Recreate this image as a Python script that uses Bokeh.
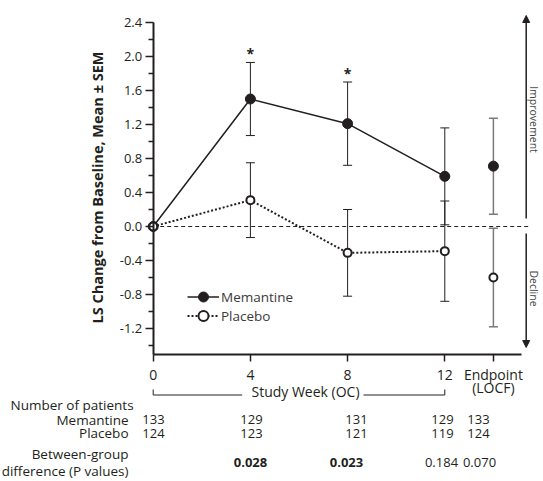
import math
from bokeh.plotting import figure
from bokeh.models import (Range1d, LinearAxis, FixedTicker, ColumnDataSource, Whisker,
                          TeeHead, Arrow, NormalHead, Legend, LegendItem, NumeralTickFormatter)
from bokeh.core.properties import value
from bokeh.embed import file_html
from bokeh.resources import INLINE

# ---------------- data ----------------
weeks = [0, 4, 8, 12]
mem_mean = [0.0, 1.50, 1.21, 0.59]
mem_sem = [0.0, 0.43, 0.49, 0.57]
pla_mean = [0.0, 0.31, -0.31, -0.29]
pla_sem = [0.0, 0.44, 0.51, 0.59]

endpoint_x = [14]
end_mem_mean = [0.71]
end_mem_sem = [0.565]
end_pla_mean = [-0.60]
end_pla_sem = [0.58]

sig_weeks = [4, 8]

x_tick_values = [0, 4, 8, 12, 14]
x_tick_labels = ["0", "4", "8", "12", "Endpoint"]
y_ticks = [-1.2, -0.8, -0.4, 0.0, 0.4, 0.8, 1.2, 1.6, 2.0, 2.4]
y_minor_ticks = [-1.4, -1.0, -0.6, -0.2, 0.2, 0.6, 1.0, 1.4, 1.8, 2.2]

n_memantine = ["133", "129", "131", "129", "133"]
n_placebo = ["124", "123", "121", "119", "124"]
p_values = ["0.028", "0.023", "0.184", "0.070"]
p_bold = ["bold", "bold", "normal", "normal"]

# ---------------- layout constants ----------------
FONT = "Open Sans"
INK = "#231f20"
GREY = "#7a7a7a"
FS = "13px"
FS_LAB = "13.5px"
W, H = 543, 481
PX_X, PX_Y = 24.3, 85.0          # pixels per week / per unit
X0_PX, Y0_PX = 152.7, 226.0      # canvas position of (0, 0)

def ydat(screen_y):
    return (Y0_PX - screen_y) / PX_Y

def xdat(screen_x):
    return (screen_x - X0_PX) / PX_X

table_col_x = [xdat(153), xdat(251), xdat(356), xdat(442), xdat(478)]
pval_col_x = [xdat(250), xdat(346), xdat(441), xdat(479)]

p = figure(width=W, height=H, output_backend="svg", toolbar_location=None,
           x_range=Range1d(-X0_PX / PX_X, (W - X0_PX) / PX_X),
           y_range=Range1d(-(H - Y0_PX) / PX_Y, Y0_PX / PX_Y),
           x_axis_type=None, y_axis_type=None, min_border=0,
           outline_line_color=None, background_fill_color="white")

# ---------------- axes ----------------
yaxis = LinearAxis(fixed_location=0, bounds=(-1.5, 2.4),
                   ticker=FixedTicker(ticks=y_ticks, minor_ticks=y_minor_ticks),
                   formatter=NumeralTickFormatter(format="0.0"))
yaxis.axis_line_width = 2
yaxis.axis_line_color = INK
yaxis.major_tick_line_color = INK
yaxis.minor_tick_line_color = INK
yaxis.major_tick_line_width = 1.5
yaxis.minor_tick_line_width = 1.5
yaxis.major_tick_out = 8
yaxis.major_tick_in = 0
yaxis.minor_tick_out = 5
yaxis.minor_tick_in = 0
yaxis.major_label_standoff = 3
yaxis.major_label_text_font = FONT
yaxis.major_label_text_font_size = FS
yaxis.major_label_text_color = INK
p.add_layout(yaxis, "left")

xaxis = LinearAxis(fixed_location=-1.5, bounds=(0, 15.14),
                   ticker=FixedTicker(ticks=x_tick_values, minor_ticks=[]),
                   major_label_overrides={v: l for v, l in zip(x_tick_values, x_tick_labels)})
xaxis.axis_line_width = 2
xaxis.axis_line_color = INK
xaxis.major_tick_line_color = INK
xaxis.major_tick_line_width = 1.5
xaxis.major_tick_out = 7
xaxis.major_tick_in = 0
xaxis.minor_tick_line_color = None
xaxis.major_label_standoff = 4
xaxis.major_label_text_font = FONT
xaxis.major_label_text_font_size = "14px"
xaxis.major_label_text_color = INK
p.add_layout(xaxis, "below")

# zero reference line
p.segment(x0=[0], y0=[0], x1=[xdat(530)], y1=[0], line_color=INK, line_width=1,
          line_dash="4 3")

# ---------------- error bars ----------------
def whisk(xs, means, sems, color, width):
    src = ColumnDataSource(dict(x=xs, upper=[m + s for m, s in zip(means, sems)],
                                lower=[m - s for m, s in zip(means, sems)]))
    w = Whisker(base="x", upper="upper", lower="lower", source=src, dimension="height",
                line_color=color, line_width=width,
                upper_head=TeeHead(size=9, line_color=color, line_width=width),
                lower_head=TeeHead(size=9, line_color=color, line_width=width))
    p.add_layout(w)

whisk(weeks[1:], mem_mean[1:], mem_sem[1:], INK, 1)
whisk(weeks[1:], pla_mean[1:], pla_sem[1:], INK, 1)
whisk(endpoint_x, end_mem_mean, end_mem_sem, GREY, 1.5)
whisk(endpoint_x, end_pla_mean, end_pla_sem, GREY, 1.5)

# ---------------- series ----------------
pla_line = p.line(weeks, pla_mean, line_color=INK, line_width=2, line_dash="2 2")
mem_line = p.line(weeks, mem_mean, line_color=INK, line_width=1.5)
mem_pts = p.scatter(weeks, mem_mean, size=10, fill_color=INK, line_color=INK, line_width=1)
pla_pts = p.scatter(weeks, pla_mean, size=8, fill_color="white", line_color=INK, line_width=2)
p.scatter(endpoint_x, end_mem_mean, size=10, fill_color=INK, line_color=INK, line_width=1)
p.scatter(endpoint_x, end_pla_mean, size=8, fill_color="white", line_color=INK, line_width=2)

# significance asterisks
sig_y = [mem_mean[weeks.index(w)] + mem_sem[weeks.index(w)] + 0.10 for w in sig_weeks]
p.text(x=sig_weeks, y=sig_y, text=["*"] * len(sig_weeks), text_font=value(FONT),
       text_font_size="14px", text_font_style="bold", text_color=INK,
       text_align="center", text_baseline="middle")

# ---------------- legend (one box per row) ----------------
leg_common = dict(orientation="vertical", glyph_width=32, glyph_height=25, label_height=18,
                  label_standoff=2, padding=0, margin=0, border_line_color=None,
                  background_fill_alpha=0, label_text_font=FONT, label_text_font_size="13.5px",
                  label_text_color="#3a3a3a")
p.add_layout(Legend(items=[LegendItem(label="Memantine", renderers=[mem_line, mem_pts])],
                    location=(187, H - 296.5 - 12.5), **leg_common))
p.add_layout(Legend(items=[LegendItem(label="Placebo", renderers=[pla_line, pla_pts])],
                    location=(187, H - 315.5 - 12.5), **leg_common))

# ---------------- improvement / decline arrows ----------------
ax = xdat(525.7)
p.add_layout(Arrow(x_start=ax, y_start=ydat(218), x_end=ax, y_end=ydat(15),
                   line_color=INK, line_width=1.5,
                   end=NormalHead(size=7, fill_color=INK, line_color=INK)))
p.add_layout(Arrow(x_start=ax, y_start=ydat(233), x_end=ax, y_end=ydat(347),
                   line_color=INK, line_width=1.5,
                   end=NormalHead(size=7, fill_color=INK, line_color=INK)))
p.text(x=[xdat(533.5), xdat(533.5)], y=[ydat(119), ydat(288)],
       text=["Improvement", "Decline"], angle=-math.pi / 2,
       text_font=value(FONT), text_font_size="10.5px", text_color="#444444",
       text_align="center", text_baseline="middle")

# ---------------- y title ----------------
p.text(x=[xdat(97)], y=[ydat(187)], text=["LS Change from Baseline, Mean \u00b1 SEM"],
       angle=math.pi / 2, text_font=value(FONT), text_font_size="14.5px",
       text_font_style="bold", text_color=INK, text_align="center", text_baseline="middle")

# ---------------- below-axis labels ----------------
p.text(x=[14], y=[ydat(387)], text=["(LOCF)"], text_font=value(FONT),
       text_font_size="14px", text_color=INK, text_align="center", text_baseline="middle")
p.text(x=[xdat(305)], y=[ydat(391)], text=["Study Week (OC)"], text_font=value(FONT),
       text_font_size="14px", text_color=INK, text_align="center", text_baseline="middle")
yb, yt = ydat(394.5), ydat(389)
p.segment(x0=[0, 0, xdat(363), 12], y0=[yb, yb, yb, yb],
          x1=[xdat(241.7), 0, 12, 12], y1=[yb, yt, yb, yt],
          line_color=INK, line_width=1)

# ---------------- table ----------------
p.text(x=[xdat(10)], y=[ydat(404)], text=["Number of patients"], text_font=value(FONT),
       text_font_size=FS_LAB, text_color=INK, text_align="left", text_baseline="middle")
lab_x = xdat(128)
p.text(x=[lab_x] * 4, y=[ydat(419), ydat(432.5), ydat(453), ydat(470)],
       text=["Memantine", "Placebo", "Between-group", "difference (P values)"],
       text_font=value(FONT), text_font_size=FS_LAB, text_color=INK,
       text_align="right", text_baseline="middle")
p.text(x=table_col_x, y=[ydat(419)] * 5, text=n_memantine, text_font=value(FONT),
       text_font_size=FS, text_color=INK, text_align="center", text_baseline="middle")
p.text(x=table_col_x, y=[ydat(432.5)] * 5, text=n_placebo, text_font=value(FONT),
       text_font_size=FS, text_color=INK, text_align="center", text_baseline="middle")
psrc = ColumnDataSource(dict(x=pval_col_x, y=[ydat(462)] * 4, t=p_values, s=p_bold))
p.text(x="x", y="y", text="t", text_font_style="s", source=psrc, text_font=value(FONT),
       text_font_size=FS, text_color=INK, text_align="center", text_baseline="middle")

open("out.html", "w").write(file_html(p, INLINE))
